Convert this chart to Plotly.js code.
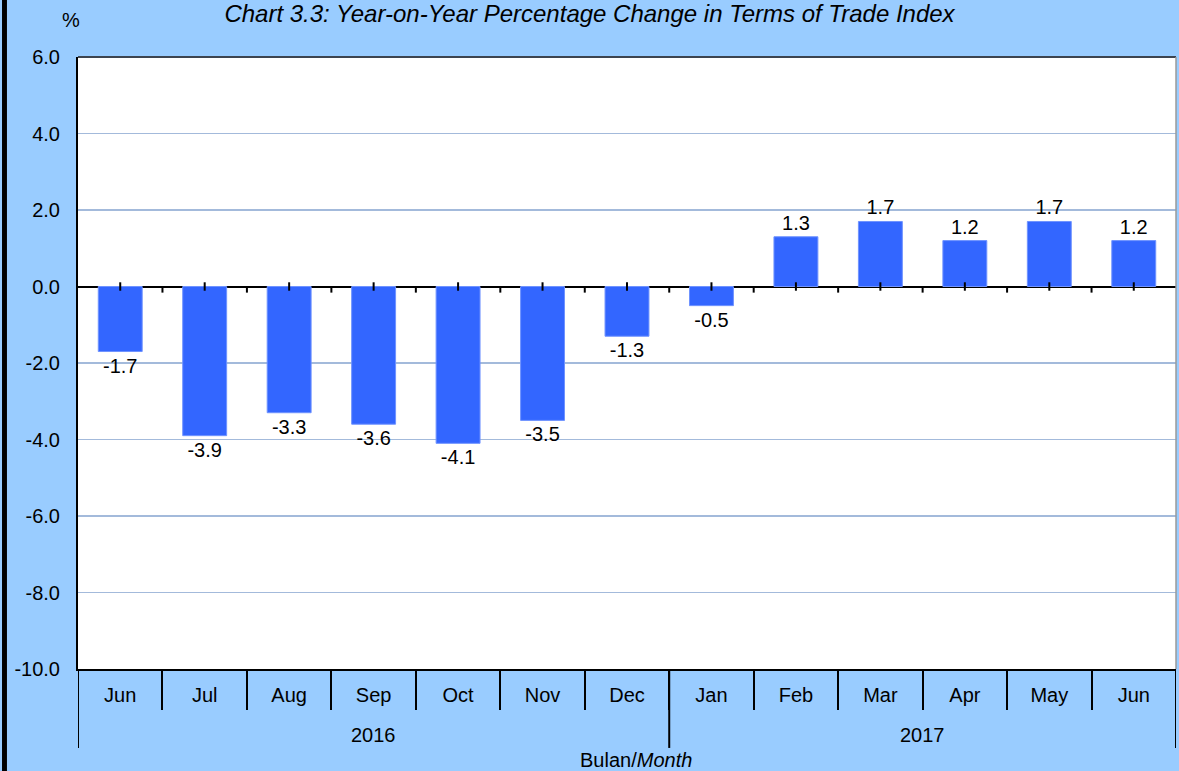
<!DOCTYPE html>
<html>
<head>
<meta charset="utf-8">
<script src="https://cdn.plot.ly/plotly-3.0.1.min.js"></script>
<style>html,body{margin:0;padding:0;background:#99CCFF;}#chart{width:1179px;height:771px;}</style>
</head>
<body>
<div id="chart"></div>
<script>
// ---- data ----
const months = ["Jun","Jul","Aug","Sep","Oct","Nov","Dec","Jan","Feb","Mar","Apr","May","Jun"];
const years = ["2016","2017"];
const yearMonthCounts = [7, 6];
const values = [-1.7, -3.9, -3.3, -3.6, -4.1, -3.5, -1.3, -0.5, 1.3, 1.7, 1.2, 1.7, 1.2];
const labels = ["-1.7","-3.9","-3.3","-3.6","-4.1","-3.5","-1.3","-0.5","1.3","1.7","1.2","1.7","1.2"];
const yTicks = [-10, -8, -6, -4, -2, 0, 2, 4, 6];
const yTickLabels = ["-10.0","-8.0","-6.0","-4.0","-2.0","0.0","2.0","4.0","6.0"];

const FONT = "Liberation Sans, Arial, sans-serif";
const idx = months.map((_, i) => i);
const boundaries = months.slice(1).map((_, i) => i + 0.5);

const shapes = [];
// ticks on zero line
idx.forEach(i => shapes.push({type:'line', xref:'x', yref:'y', x0:i, x1:i, y0:-0.11, y1:0.11, line:{color:'#000', width:2}}));
boundaries.forEach(b => shapes.push({type:'line', xref:'x', yref:'y', x0:b, x1:b, y0:0, y1:-0.16, line:{color:'#000', width:2}}));
// year separators
let start = -0.5;
const seps = [start];
yearMonthCounts.forEach(c => { start += c; seps.push(start); });
seps.forEach(s => shapes.push({type:'line', xref:'x', yref:'paper', x0:s, x1:s, y0:0, y1:-0.129, line:{color:'#000', width:2}}));
// plot borders
shapes.push({type:'line', xref:'paper', yref:'paper', x0:0, x1:1, y0:1, y1:1, line:{color:'#3c4450', width:2}});
shapes.push({type:'line', xref:'paper', yref:'paper', x0:1, x1:1, y0:0, y1:1, line:{color:'#9a9a9a', width:1.5}});
// left black stripe of the frame
shapes.push({type:'rect', xref:'paper', yref:'paper', x0:-0.0692, x1:-0.0647, y0:-0.17, y1:1.1, fillcolor:'#000', line:{width:0}, layer:'above'});

const annotations = [];
// year labels
let acc = 0;
years.forEach((y, k) => {
  const c = yearMonthCounts[k];
  annotations.push({xref:'x', yref:'paper', x: acc + (c - 1) / 2, y:-0.1078, text:y, showarrow:false, yanchor:'middle', font:{family:FONT, size:20, color:'#000'}});
  acc += c;
});
annotations.push({xref:'paper', yref:'paper', x:0.508, y:-0.1487, text:'Bulan/<i>Month</i>', showarrow:false, yanchor:'middle', font:{family:FONT, size:20, color:'#000'}});
annotations.push({xref:'paper', yref:'paper', x:-0.0164, y:1.0605, text:'%', showarrow:false, yanchor:'middle', font:{family:FONT, size:20, color:'#000'}});

const trace = {
  type:'bar', x: idx, y: values, text: labels, textposition:'outside', cliponaxis:false,
  constraintext:'none', textfont:{family:FONT, size:20, color:'#000'},
  marker:{color:'#3366FF', line:{color:'#6f93ff', width:1}}, hoverinfo:'none'
};

const layout = {
  width:1179, height:771,
  paper_bgcolor:'#99CCFF', plot_bgcolor:'#FFFFFF',
  margin:{l:78, r:3, t:57, b:102},
  showlegend:false, bargap:0.48,
  font:{family:FONT, size:20, color:'#000'},
  title:{text:'<i>Chart 3.3: Year-on-Year Percentage Change in Terms of Trade Index</i>', x:0.5, xref:'container', xanchor:'center', y:0.982, yref:'container', yanchor:'middle', font:{family:FONT, size:24, color:'#000'}},
  xaxis:{range:[-0.5, 12.5], tickmode:'array', tickvals: idx, ticktext: months, ticks:'', showgrid:false, zeroline:false,
    showline:true, linecolor:'#000', linewidth:2, ticklabelstandoff:7, tickfont:{family:FONT, size:20, color:'#000'},
    minor:{tickmode:'array', tickvals: boundaries, ticks:'outside', ticklen:39, tickwidth:2, tickcolor:'#000', showgrid:false}},
  yaxis:{range:[-10, 6], tickmode:'array', tickvals: yTicks, ticktext: yTickLabels, ticks:'', showgrid:true, gridcolor:'#A3BADB', gridwidth:1.5,
    zeroline:true, zerolinecolor:'#000', zerolinewidth:2, showline:true, linecolor:'#000', linewidth:2,
    ticklabelstandoff:12, tickfont:{family:FONT, size:20, color:'#000'}},
  shapes: shapes, annotations: annotations
};

Plotly.newPlot('chart', [trace], layout, {displayModeBar:false, staticPlot:true});
</script>
</body>
</html>
